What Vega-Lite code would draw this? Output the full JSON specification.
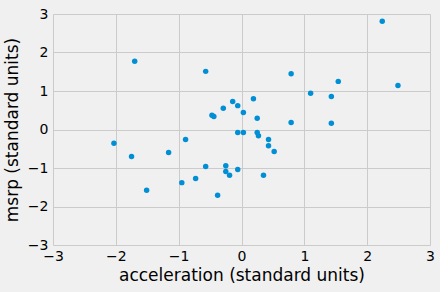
{
  "$schema": "https://vega.github.io/schema/vega-lite/v6.json",
  "width": 377,
  "height": 231,
  "autosize": "none",
  "padding": {"left": 53, "top": 14, "right": 10, "bottom": 47},
  "background": "#f0f0f0",
  "config": {
    "view": {"stroke": null, "fill": "#f0f0f0"},
    "font": "DejaVu Sans",
    "axis": {
      "domain": false,
      "ticks": false,
      "gridColor": "#cbcbcb",
      "gridWidth": 1,
      "labelFont": "DejaVu Sans",
      "labelFontSize": 14,
      "labelColor": "#000000",
      "labelExpr": "replace(datum.label, '-', '−')",
      "labelFlush": false,
      "labelBound": false,
      "titleFont": "DejaVu Sans",
      "titleFontSize": 17,
      "titleFontWeight": "normal",
      "titleColor": "#000000"
    }
  },
  "data": {
    "values": [
      {"acceleration": 0.19, "msrp": 0.80},
      {"acceleration": -0.14, "msrp": 0.73},
      {"acceleration": -0.06, "msrp": 0.62},
      {"acceleration": -0.29, "msrp": 0.55},
      {"acceleration": 0.03, "msrp": 0.44},
      {"acceleration": -0.47, "msrp": 0.37},
      {"acceleration": -0.44, "msrp": 0.34},
      {"acceleration": 0.25, "msrp": 0.29},
      {"acceleration": 0.79, "msrp": 0.18},
      {"acceleration": -0.06, "msrp": -0.08},
      {"acceleration": 0.03, "msrp": -0.08},
      {"acceleration": 0.25, "msrp": -0.08},
      {"acceleration": 0.27, "msrp": -0.16},
      {"acceleration": -0.89, "msrp": -0.26},
      {"acceleration": 0.43, "msrp": -0.26},
      {"acceleration": 0.43, "msrp": -0.42},
      {"acceleration": 0.52, "msrp": -0.57},
      {"acceleration": -0.57, "msrp": -0.96},
      {"acceleration": -0.25, "msrp": -0.94},
      {"acceleration": -0.25, "msrp": -1.09},
      {"acceleration": -0.06, "msrp": -1.04},
      {"acceleration": -0.19, "msrp": -1.19},
      {"acceleration": 0.35, "msrp": -1.19},
      {"acceleration": -0.73, "msrp": -1.27},
      {"acceleration": -0.95, "msrp": -1.38},
      {"acceleration": -2.03, "msrp": -0.36},
      {"acceleration": -1.75, "msrp": -0.70},
      {"acceleration": -1.16, "msrp": -0.60},
      {"acceleration": -1.51, "msrp": -1.58},
      {"acceleration": -1.70, "msrp": 1.77},
      {"acceleration": -0.57, "msrp": 1.51},
      {"acceleration": 2.24, "msrp": 2.81},
      {"acceleration": 0.79, "msrp": 1.45},
      {"acceleration": 1.54, "msrp": 1.25},
      {"acceleration": 2.49, "msrp": 1.14},
      {"acceleration": 1.10, "msrp": 0.94},
      {"acceleration": 1.43, "msrp": 0.86},
      {"acceleration": 1.43, "msrp": 0.16},
      {"acceleration": -0.38, "msrp": -1.71}
    ]
  },
  "mark": {"type": "circle", "color": "#008fd5", "opacity": 1, "size": 30},
  "encoding": {
    "x": {
      "field": "acceleration",
      "type": "quantitative",
      "scale": {"domain": [-3, 3], "nice": false, "zero": false},
      "axis": {"values": [-3, -2, -1, 0, 1, 2, 3], "title": "acceleration (standard units)", "labelPadding": 4, "titlePadding": 4}
    },
    "y": {
      "field": "msrp",
      "type": "quantitative",
      "scale": {"domain": [-3, 3], "nice": false, "zero": false},
      "axis": {"values": [-3, -2, -1, 0, 1, 2, 3], "title": "msrp (standard units)", "labelPadding": 5, "titlePadding": 6}
    }
  }
}
